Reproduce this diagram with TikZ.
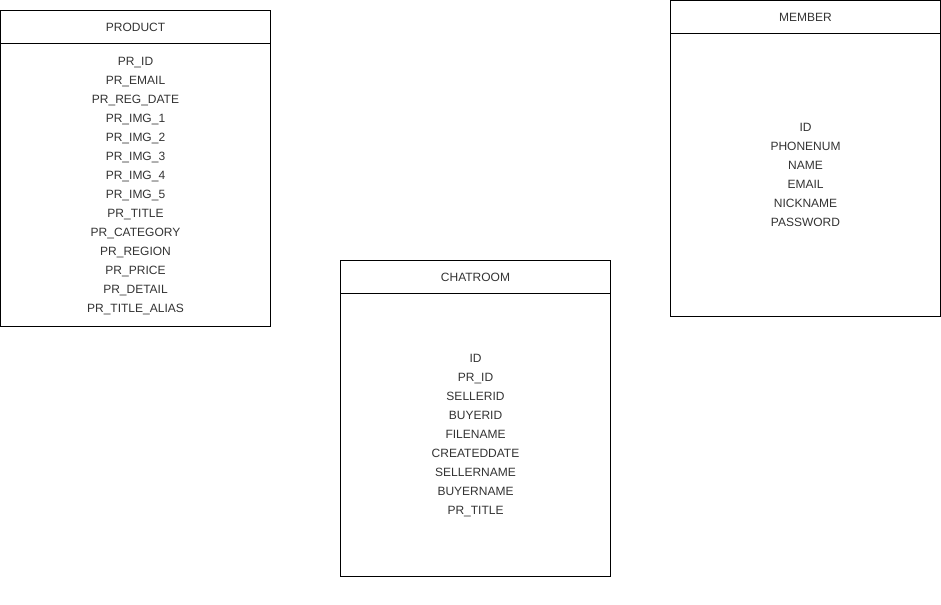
\documentclass[tikz,border=0pt]{standalone}
\usepackage{fontspec}
\setmainfont{Liberation Sans}
\usepackage{xcolor}
\usepackage{tikz}

\definecolor{txtgray}{RGB}{51,51,51}
\tikzset{
  field/.style={text=txtgray, font=\fontsize{9}{11}\selectfont, inner sep=0pt, text height=6.5pt, text depth=1.5pt},
  tablebox/.style={draw=black, line width=0.75pt}
}

\begin{document}
\begin{tikzpicture}[x=0.75pt,y=0.75pt,yscale=-1,xscale=1]
\useasboundingbox (0,0) rectangle (941,605);

%Shape: Rectangle [PRODUCT]
\draw [tablebox]  (0.5,10.5) -- (270.5,10.5) -- (270.5,326.5) -- (0.5,326.5) -- cycle ;
\draw [tablebox]  (0.5,44) -- (270.5,44) ;
%Shape: Rectangle [MEMBER]
\draw [tablebox]  (670.5,0.5) -- (940.5,0.5) -- (940.5,317) -- (670.5,317) -- cycle ;
\draw [tablebox]  (670.5,34) -- (940.5,34) ;
%Shape: Rectangle [CHATROOM]
\draw [tablebox]  (340.5,260.5) -- (610.5,260.5) -- (610.5,576.5) -- (340.5,576.5) -- cycle ;
\draw [tablebox]  (340.5,294) -- (610.5,294) ;

% Text Node
\draw (135.5,28.5) node [field] (product) {PRODUCT};
% Text Node
\draw (805.5,18.5) node [field] (member) {MEMBER};
% Text Node
\draw (475.5,278.5) node [field] (chatroom) {CHATROOM};

% PRODUCT fields
\foreach \lbl [count=\i from 0] in {PR\_ID,PR\_EMAIL,PR\_REG\_DATE,PR\_IMG\_1,PR\_IMG\_2,PR\_IMG\_3,PR\_IMG\_4,PR\_IMG\_5,PR\_TITLE,PR\_CATEGORY,PR\_REGION,PR\_PRICE,PR\_DETAIL,PR\_TITLE\_ALIAS}
  \draw (135.5,62.5+19*\i) node [field] (pr-\i) {\lbl};

% MEMBER fields
\foreach \lbl [count=\i from 0] in {ID,PHONENUM,NAME,EMAIL,NICKNAME,PASSWORD}
  \draw (805.5,128.5+19*\i) node [field] (mb-\i) {\lbl};

% CHATROOM fields
\foreach \lbl [count=\i from 0] in {ID,PR\_ID,SELLERID,BUYERID,FILENAME,CREATEDDATE,SELLERNAME,BUYERNAME,PR\_TITLE}
  \draw (475.5,359.5+19*\i) node [field] (ch-\i) {\lbl};
\end{tikzpicture}
\end{document}
